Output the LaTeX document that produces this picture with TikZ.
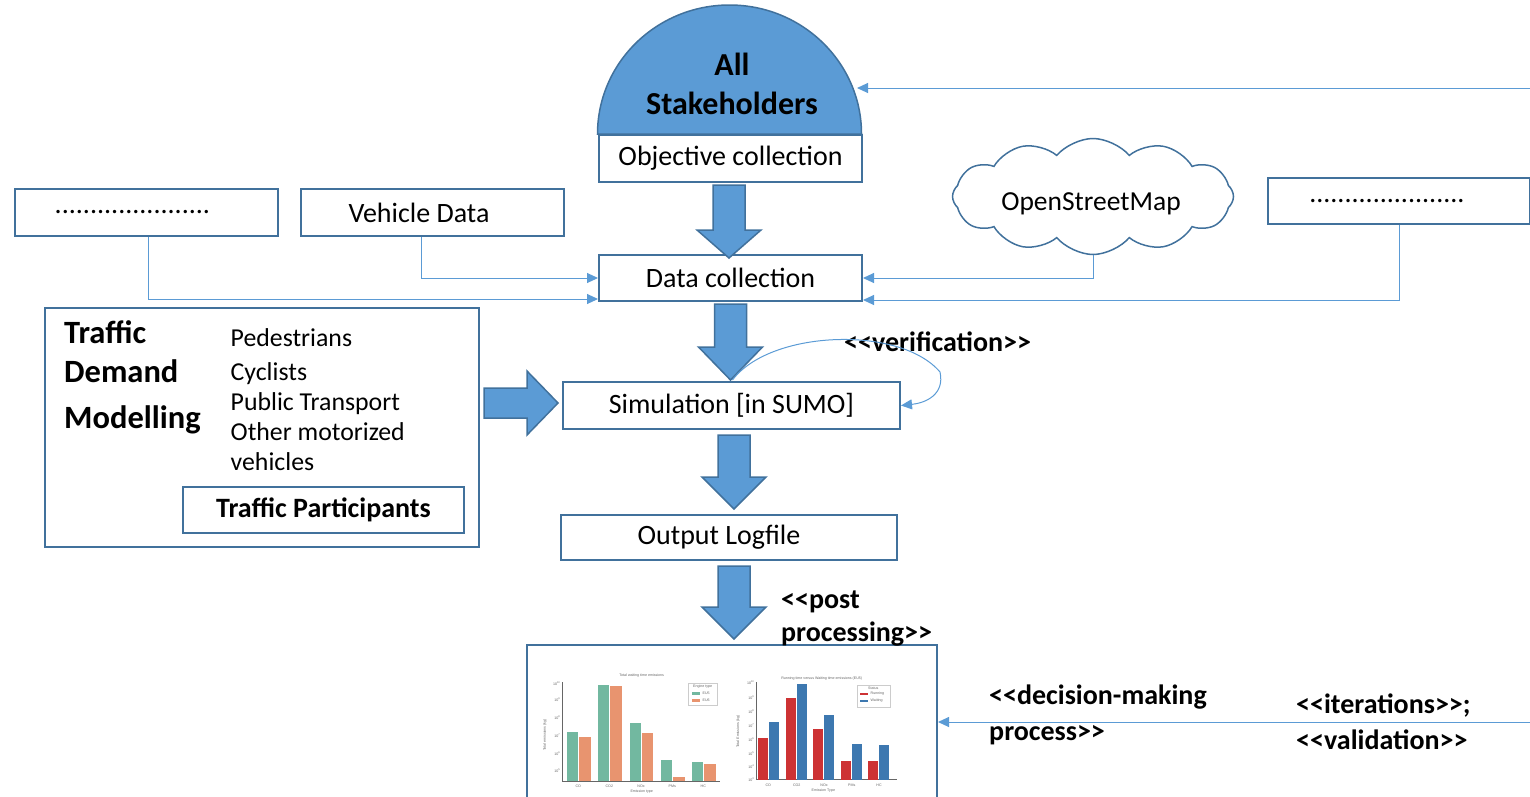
\documentclass[tikz,border=0pt]{standalone}
\usepackage{fontspec}
\setmainfont{Carlito}
\newfontfamily\chartfont{Liberation Sans}
\usetikzlibrary{calc,arrows.meta,shapes.symbols}
\definecolor{boxblue}{HTML}{41719C}
\definecolor{fillblue}{HTML}{5B9BD5}
\definecolor{lineblue}{HTML}{5B9BD5}
\definecolor{cgreen}{HTML}{72B8A0}
\definecolor{corange}{HTML}{E8946F}
\definecolor{cred}{HTML}{CD3234}
\definecolor{cblue}{HTML}{3D78B0}
\definecolor{axgray}{HTML}{666666}
\newcommand\ltlt{<\kern0pt<}
\newcommand\gtgt{>\kern0pt>}
\tikzset{
  box/.style={draw=boxblue, line width=2pt, fill=white, inner sep=0pt, anchor=north west,
              font=\fontsize{28}{33}\selectfont},
  conn/.style={draw=lineblue, line width=1pt, -{Triangle[length=11pt,width=10pt]}},
  fatarrow/.style={fill=fillblue, draw=boxblue, line width=1.5pt, line join=miter},
  lbl/.style={font=\bfseries\fontsize{28}{33}\selectfont, inner sep=0pt, anchor=base west},
  tdmtxt/.style={font=\bfseries\fontsize{32.5}{38}\selectfont, inner sep=0pt, anchor=base west},
  listtxt/.style={font=\fontsize{25.8}{30}\selectfont, inner sep=0pt, anchor=base west},
  ctxt/.style={font=\chartfont\fontsize{3.6}{4}\selectfont, text=axgray, inner sep=0.5pt},
}
% #1 from anchor, #2 to anchor, #3 top gap, #4 tip gap, #5 head length, #6 x offset
\newcommand\fatdown[6]{%
  \draw[fatarrow] let \p1=(#1), \p2=(#2) in
    ({\x1+#6-16pt},{\y1-#3}) -- ({\x1+#6+16pt},{\y1-#3}) --
    ({\x1+#6+16pt},{\y2+#4+#5}) -- ({\x1+#6+32pt},{\y2+#4+#5}) --
    ({\x1+#6},{\y2+#4}) --
    ({\x1+#6-32pt},{\y2+#4+#5}) -- ({\x1+#6-16pt},{\y2+#4+#5}) -- cycle;}
\begin{document}
\begin{tikzpicture}[x=1pt,y=-1pt]
\useasboundingbox (0,0) rectangle (1530,796);

% stakeholders semicircle
\draw[fill=fillblue, draw=boxblue, line width=1.5pt] (597.5,134)
  arc[start angle=180, end angle=360, x radius=132, y radius=129] -- cycle;
\node[font=\bfseries\fontsize{32}{38.3}\selectfont, align=center, inner sep=0pt] (stake) at (732,84) {All\\Stakeholders};

% boxes
\node[box, minimum width=263pt, minimum height=47pt] (obj) at (598,134) {Objective collection};
\node[box, minimum width=263pt, minimum height=46pt] (data) at (598,254) {Data collection};
\node[box, minimum width=263pt, minimum height=47pt] (d1) at (14,188) {......................\hspace*{28pt}};
\node[box, minimum width=263pt, minimum height=47pt] (veh) at (300,188) {Vehicle Data\hspace*{27pt}};
\node[box, minimum width=262pt, minimum height=46pt] (d2) at (1267,177) {......................\hspace*{24pt}};
\node[box, minimum width=337pt, minimum height=47pt] (sim) at (562,381) {Simulation [in SUMO]};
\node[box, minimum width=336pt, minimum height=45pt] (out) at (560,514) {Output Logfile\hspace*{20pt}};
\node[box, minimum width=434pt, minimum height=239pt] (tdm) at (44,307) {};
\node[box, font=\bfseries\fontsize{28}{33}\selectfont, minimum width=281pt, minimum height=46pt] (tp) at (182,486) {Traffic Participants};
\node[box, minimum width=410pt, minimum height=160pt] (chart) at (526,644) {};

% cloud
\node[cloud, cloud puffs=12, cloud puff arc=100, cloud ignores aspect, minimum width=281pt,
      minimum height=116pt, draw=boxblue, line width=1.5pt] (osm) at (1093,196.5) {};
\node[font=\fontsize{27.5}{32}\selectfont, inner sep=0pt, anchor=base] (osmtxt) at (1091,210) {OpenStreetMap};

% traffic demand modelling texts
\node[tdmtxt] (tdmA) at (64,343) {Traffic};
\node[tdmtxt] (tdmB) at (64,382) {Demand};
\node[tdmtxt] (tdmC) at (64,428.5) {Modelling};
\node[listtxt] (l1) at (230.5,346.7) {Pedestrians};
\node[listtxt] (l2) at (230.5,380) {Cyclists};
\node[listtxt] (l3) at (230.5,410) {Public Transport};
\node[listtxt] (l4) at (230.5,440) {Other motorized};
\node[listtxt] (l5) at (230.5,470) {vehicles};

% labels
\node[lbl] (verif) at (844,351) {\ltlt verification\gtgt};
\node[lbl] (post1) at (781,608) {\ltlt post};
\node[lbl] (post2) at (781,641) {processing\gtgt};
\node[lbl] (dec1) at (989,704) {\ltlt decision-making};
\node[lbl] (dec2) at (989,740) {process\gtgt};
\node[lbl] (it1) at (1296,713) {\ltlt iterations\gtgt;};
\node[lbl] (it2) at (1296,749) {\ltlt validation\gtgt};

% fat arrows
\fatdown{obj.south}{data.north}{2pt}{-4pt}{28pt}{-1.5pt}
\fatdown{data.south}{sim.north}{2pt}{1pt}{33pt}{0pt}
\fatdown{sim.south}{out.north}{5pt}{5pt}{32pt}{2.5pt}
\fatdown{out.south}{chart.north}{5pt}{5pt}{32pt}{5pt}
\draw[fatarrow] let \p1=(tdm.east), \p2=(sim.west) in
  ({\x1+4pt},{\y2+2.5pt+15pt}) -- ({\x2-4pt-31pt},{\y2+2.5pt+15pt}) --
  ({\x2-4pt-31pt},{\y2+2.5pt+32pt}) -- ({\x2-4pt},{\y2+2.5pt}) --
  ({\x2-4pt-31pt},{\y2+2.5pt-32pt}) -- ({\x2-4pt-31pt},{\y2+2.5pt-15pt}) --
  ({\x1+4pt},{\y2+2.5pt-15pt}) -- cycle;

% thin connectors
\draw[conn] ($(d1.south)+(1.5,0)$) |- ($(data.south west)+(0,-3)$);
\draw[conn] ($(veh.south)+(-11.5,0)$) |- (data.west);
\draw[conn] (osm.south) |- (data.east);
\draw[conn] (d2.south) |- ($(data.south east)+(0,-2)$);
\coordinate (fbstart) at (1530,88);
\coordinate (fbend) at (857,88);
\draw[conn] (fbstart) -- (fbend);
\coordinate (decstart) at (1530,722);
\draw[conn] (decstart) -- (decstart -| chart.east);
\draw[conn] ($(sim.north)+(1,-1)$) .. controls (770,330) and (900,325) .. (940,372)
  .. controls (945,395) and (925,403) .. (sim.east);

% ---- chart: left ----
\draw[axgray, line width=.5pt] (562,682) -- (562,781) -- (720,781);
\foreach \a/\b/\t/\c in {566.7/578.3/731.7/cgreen, 579/590.7/736.7/corange,
  598.3/609.3/685/cgreen, 610/622.3/686/corange, 630/641/723.3/cgreen, 641.7/653.3/732.7/corange,
  660.7/672.3/760/cgreen, 673.3/685/776.7/corange, 691.7/703.3/761.7/cgreen, 704/716/764.3/corange}
  \fill[\c] (\a,\t) rectangle (\b,781);
\node[ctxt] (lt) at (641.7,676) {Total waiting time emissions};
\foreach \e/\y [count=\i] in {10/683.3,9/700,8/717.3,7/736,6/754,5/770.7}
  \node[ctxt, anchor=east] (lyt\i) at (561,\y) {10\textsuperscript{\e}};
\foreach \n/\x [count=\i] in {CO/578.3,CO2/609.3,NOx/641,PMs/672.3,HC/703.3}
  \node[ctxt] (lxt\i) at (\x,786.5) {\n};
\node[ctxt] (lxl) at (641.7,791.7) {Emission type};
\node[ctxt, rotate=90] (lyl) at (545,735) {Total emissions (kg)};
\draw[gray!40, fill=white, line width=.3pt] (688.3,683.3) rectangle (717.3,705);
\node[ctxt] (lleg) at (702.7,686.7) {Engine type};
\fill[cgreen] (691.5,692) rectangle (699.5,694.8);
\fill[corange] (691.5,698.7) rectangle (699.5,701.5);
\node[ctxt, anchor=west] (leu5) at (702,693.4) {EU5};
\node[ctxt, anchor=west] (leu6) at (702,700.1) {EU6};

% ---- chart: right ----
\draw[axgray, line width=.5pt] (756,682) -- (756,779.5) -- (897,779.5);
\foreach \a/\b/\t/\c in {757.7/768.3/737.7/cred, 769/779.3/722/cblue,
  785.7/796/697.7/cred, 796.7/806.7/684.3/cblue, 813.3/823.3/729.3/cred, 824/834.3/714.7/cblue,
  840.7/851/761/cred, 851.7/861.7/744.3/cblue, 867.7/878.3/760.7/cred, 879/889.3/745/cblue}
  \fill[\c] (\a,\t) rectangle (\b,779.5);
\node[ctxt] (rt) at (821.7,678.3) {Running time versus Waiting time emissions (EU5)};
\foreach \e/\y [count=\i] in {10/682.7,9/697.3,8/711.7,7/726,6/740,5/753.3,4/766.7,3/780}
  \node[ctxt, anchor=east] (ryt\i) at (755,\y) {10\textsuperscript{\e}};
\foreach \n/\x [count=\i] in {CO/768.3,CO2/796.7,NOx/824,PMs/851.7,HC/879}
  \node[ctxt] (rxt\i) at (\x,785) {\n};
\node[ctxt] (rxl) at (823.3,790.7) {Emission Type};
\node[ctxt, rotate=90] (ryl) at (738.3,731.7) {Total Emissions (kg)};
\draw[gray!40, fill=white, line width=.3pt] (856.7,685) rectangle (890,706.7);
\node[ctxt] (rleg) at (873.3,688.3) {Status};
\fill[cred] (860,692.6) rectangle (868.3,695.4);
\fill[cblue] (860,699.6) rectangle (868.3,702.4);
\node[ctxt, anchor=west] (rrun) at (870,694) {Running};
\node[ctxt, anchor=west] (rwait) at (870,701) {Waiting};
\end{tikzpicture}
\end{document}
